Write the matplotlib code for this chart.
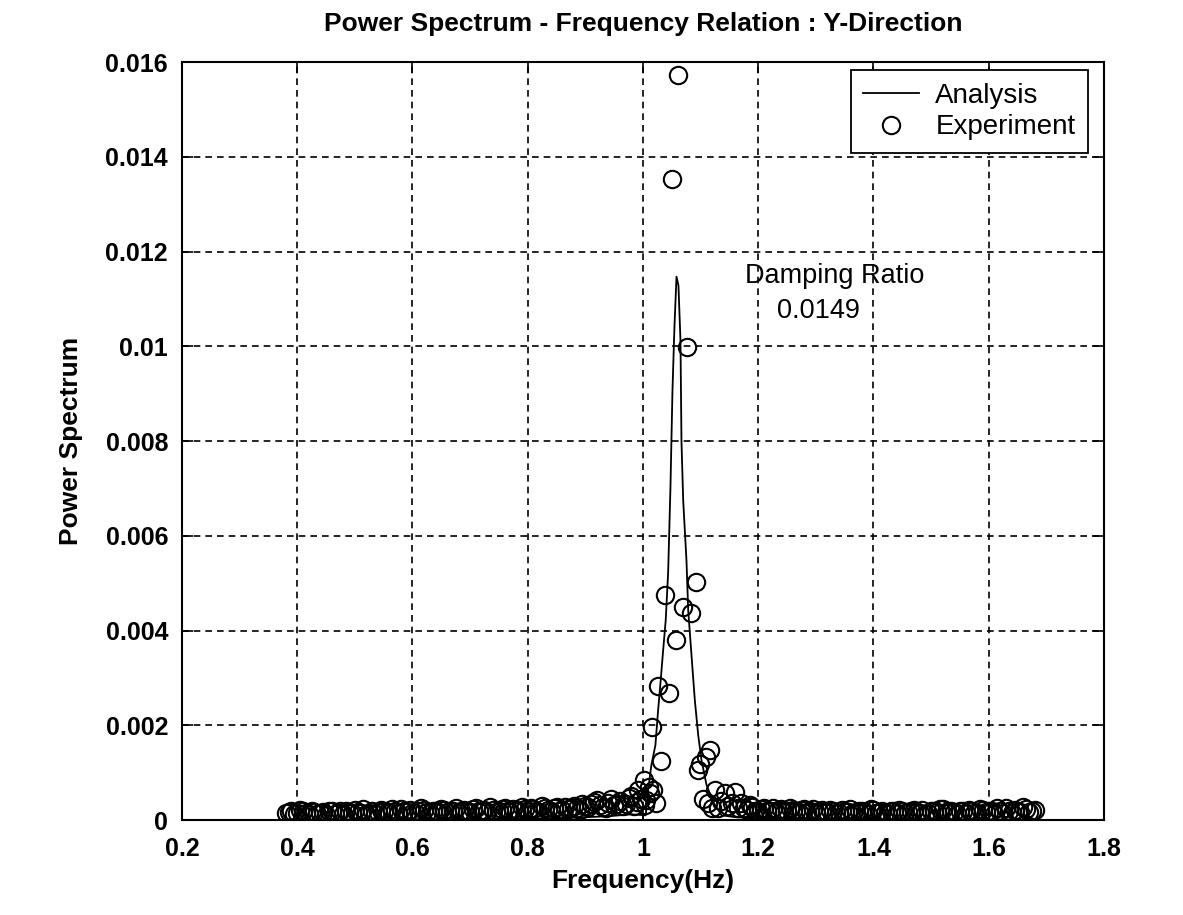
import numpy as np
import matplotlib
matplotlib.use('Agg')
import matplotlib.pyplot as plt

plt.rcParams['font.family'] = ['Liberation Sans', 'DejaVu Sans']

# ==== Experiment data (power in 1e-4 units) ====
# baseline below the resonance
exp_freq_low = [0.38, 0.39, 0.40, 0.41, 0.42, 0.43, 0.44, 0.45, 0.46, 0.47,
                0.48, 0.49, 0.50, 0.51, 0.52, 0.53, 0.54, 0.55, 0.56, 0.57,
                0.58, 0.59, 0.60, 0.61, 0.62, 0.63, 0.64, 0.65, 0.66, 0.67,
                0.68, 0.69, 0.70, 0.71, 0.72, 0.73, 0.74, 0.75, 0.76, 0.77,
                0.78, 0.79, 0.80, 0.81, 0.82, 0.83, 0.84, 0.85, 0.86, 0.87,
                0.88, 0.89, 0.90, 0.91, 0.92, 0.93, 0.94, 0.95, 0.96, 0.97,
                0.98, 0.99]
exp_pow_low = [1.5, 2.0, 1.4, 1.8, 1.2, 1.6, 1.4, 1.1, 1.8, 1.5,
               1.3, 1.7, 2.2, 1.5, 1.2, 1.8, 1.6, 2.0, 1.4, 1.9,
               2.3, 1.6, 1.4, 1.8, 2.1, 1.5, 1.9, 2.4, 1.6, 2.0,
               1.5, 2.2, 1.7, 2.5, 1.9, 1.6, 2.1, 1.8, 2.6, 1.7,
               2.2, 2.8, 1.9, 2.3, 1.7, 2.5, 2.0, 2.7, 2.1, 2.4,
               3.0, 2.2, 2.9, 3.3, 4.2, 2.8, 3.5, 3.1, 4.0, 3.4,
               5.0, 3.8]
exp_freq_low_mid = [0.385, 0.395, 0.405, 0.415, 0.425, 0.435, 0.445, 0.455, 0.465, 0.475,
                    0.485, 0.495, 0.505, 0.515, 0.525, 0.535, 0.545, 0.555, 0.565, 0.575,
                    0.585, 0.595, 0.605, 0.615, 0.625, 0.635, 0.645, 0.655, 0.665, 0.675,
                    0.685, 0.695, 0.705, 0.715, 0.725, 0.735, 0.745, 0.755, 0.765, 0.775,
                    0.785, 0.795, 0.805, 0.815, 0.825, 0.835, 0.845, 0.855, 0.865, 0.875,
                    0.885, 0.895, 0.905, 0.915, 0.925, 0.935, 0.945, 0.955, 0.965, 0.975,
                    0.985]
exp_pow_low_mid = [1.7, 1.2, 2.1, 1.4, 1.9, 1.3, 1.6, 2.0, 1.2, 1.8,
                   2.0, 1.4, 1.7, 2.3, 1.5, 1.3, 2.1, 1.7, 2.4, 1.5,
                   1.8, 2.2, 1.5, 2.5, 1.7, 2.0, 1.6, 2.2, 1.8, 2.6,
                   2.0, 1.6, 2.3, 1.8, 2.2, 2.7, 1.7, 2.4, 2.0, 2.3,
                   1.8, 2.4, 2.6, 2.0, 2.9, 2.2, 2.5, 1.9, 2.8, 2.6,
                   2.5, 3.4, 2.7, 3.9, 3.2, 2.6, 4.4, 3.3, 2.9, 4.6,
                   3.0]

# around the peak
exp_freq_peak = [0.992, 0.996, 1.001, 1.004, 1.006, 1.010, 1.013, 1.0164, 1.018, 1.022,
                 1.026, 1.032, 1.039, 1.045, 1.0506, 1.058, 1.0616, 1.0698, 1.077, 1.083,
                 1.0912, 1.096, 1.099, 1.104, 1.110, 1.113, 1.116, 1.120, 1.125, 1.130,
                 1.136, 1.142, 1.148, 1.155, 1.160, 1.165]
exp_pow_peak = [6.3, 4.5, 8.4, 3.2, 4.2, 7.0, 5.7, 19.7, 6.3, 3.6,
                28.2, 12.4, 47.6, 26.8, 135.4, 38.1, 157.3, 45.0, 99.8, 43.7,
                50.2, 10.5, 11.9, 4.5, 13.3, 3.6, 14.8, 2.5, 6.3, 2.5,
                4.0, 5.7, 3.0, 3.6, 6.0, 2.5]

# baseline above the resonance
exp_freq_high = [1.17, 1.18, 1.19, 1.20, 1.21, 1.22, 1.23, 1.24, 1.25, 1.26,
                 1.27, 1.28, 1.29, 1.30, 1.31, 1.32, 1.33, 1.34, 1.35, 1.36,
                 1.37, 1.38, 1.39, 1.40, 1.41, 1.42, 1.43, 1.44, 1.45, 1.46,
                 1.47, 1.48, 1.49, 1.50, 1.51, 1.52, 1.53, 1.54, 1.55, 1.56,
                 1.57, 1.58, 1.59, 1.60, 1.61, 1.62, 1.63, 1.64, 1.65, 1.66,
                 1.67, 1.68]
exp_pow_high = [3.5, 2.2, 2.8, 1.9, 2.5, 2.0, 1.7, 2.4, 1.8, 2.1,
                1.6, 2.3, 1.9, 1.5, 2.2, 1.7, 2.0, 1.4, 1.9, 2.4,
                1.6, 1.8, 1.3, 2.1, 1.7, 1.5, 2.0, 1.4, 1.8, 1.6,
                2.2, 1.5, 1.3, 1.9, 1.6, 2.3, 1.4, 1.7, 2.0, 1.5,
                1.8, 1.4, 2.1, 1.6, 1.3, 1.9, 2.5, 1.5, 1.7, 2.8,
                1.6, 2.2]
exp_freq_high_mid = [1.175, 1.185, 1.195, 1.205, 1.215, 1.225, 1.235, 1.245, 1.255, 1.265,
                     1.275, 1.285, 1.295, 1.305, 1.315, 1.325, 1.335, 1.345, 1.355, 1.365,
                     1.375, 1.385, 1.395, 1.405, 1.415, 1.425, 1.435, 1.445, 1.455, 1.465,
                     1.475, 1.485, 1.495, 1.505, 1.515, 1.525, 1.535, 1.545, 1.555, 1.565,
                     1.575, 1.585, 1.595, 1.605, 1.615, 1.625, 1.635, 1.645, 1.655, 1.665,
                     1.675]
exp_pow_high_mid = [2.6, 3.2, 2.0, 2.3, 1.8, 2.6, 2.2, 1.6, 2.5, 1.9,
                    2.1, 1.5, 2.4, 1.8, 1.6, 2.2, 1.5, 2.1, 1.7, 1.4,
                    2.0, 1.6, 2.3, 1.5, 1.9, 1.3, 1.8, 2.2, 1.5, 1.9,
                    1.7, 2.1, 1.4, 1.8, 2.4, 1.6, 2.0, 1.3, 1.9, 2.2,
                    1.5, 2.3, 1.7, 1.9, 2.6, 1.4, 1.8, 2.2, 1.6, 2.4,
                    1.9]

# ==== Analysis curve (power in 1e-4 units) ====
ana_freq = [0.38, 0.50, 0.60, 0.70, 0.80, 0.88, 0.94, 0.98, 1.0047, 1.0089,
            1.0146, 1.0216, 1.0263, 1.0308, 1.035, 1.0395, 1.0437, 1.0477, 1.0512, 1.0547,
            1.0582, 1.0616, 1.0651, 1.0668, 1.0698, 1.0755, 1.0785, 1.0842, 1.09, 1.0959,
            1.1016, 1.1103, 1.122, 1.1365, 1.16, 1.20, 1.30, 1.40, 1.50, 1.60, 1.68]
ana_pow = [0.1, 0.1, 0.15, 0.2, 0.3, 0.5, 0.8, 1.2, 1.0, 6.3,
           11.6, 15.8, 23.2, 29.5, 35.8, 42.2, 52.3, 70.2, 90.6, 104.3,
           114.7, 112.8, 101.2, 80.1, 67.5, 54.8, 44.3, 34.8, 25.3, 17.9,
           12.6, 7.4, 3.8, 1.0, 0.6, 0.4, 0.2, 0.15, 0.1, 0.1, 0.1]

damping_ratio = '0.0149'

x_ticks = [0.2, 0.4, 0.6, 0.8, 1.0, 1.2, 1.4, 1.6, 1.8]
x_labels = ['0.2', '0.4', '0.6', '0.8', '1', '1.2', '1.4', '1.6', '1.8']
y_ticks = [0, 0.002, 0.004, 0.006, 0.008, 0.010, 0.012, 0.014, 0.016]
y_labels = ['0', '0.002', '0.004', '0.006', '0.008', '0.01', '0.012', '0.014', '0.016']

exp_freq = np.array(exp_freq_low + exp_freq_low_mid + exp_freq_peak
                    + exp_freq_high + exp_freq_high_mid)
exp_pow = np.array(exp_pow_low + exp_pow_low_mid + exp_pow_peak
                   + exp_pow_high + exp_pow_high_mid) * 1e-4
ana_f = np.array(ana_freq)
ana_p = np.array(ana_pow) * 1e-4

fig = plt.figure(figsize=(11.83, 9.15), dpi=100)
ax = fig.add_axes([0.1538, 0.1038, 0.7794, 0.8284])

line, = ax.plot(ana_f, ana_p, color='black', linewidth=1.3, label='Analysis')
pts, = ax.plot(exp_freq, exp_pow, linestyle='none', marker='o', markersize=12.5,
               markerfacecolor='none', markeredgecolor='black', markeredgewidth=1.5,
               label='Experiment')

ax.set_xlim(0.2, 1.8)
ax.set_ylim(0, 0.016)
ax.set_xticks(x_ticks)
ax.set_xticklabels(x_labels)
ax.set_yticks(y_ticks)
ax.set_yticklabels(y_labels)

ax.tick_params(direction='in', length=8, width=1.2, top=True, right=True,
               labelsize=18)
ax.tick_params(axis='x', pad=12)
ax.tick_params(axis='y', pad=10)
for lab in ax.get_xticklabels() + ax.get_yticklabels():
    lab.set_fontweight('bold')

ax.grid(True, color='black', linestyle=(0, (4, 3)), linewidth=1.2)
for sp in ax.spines.values():
    sp.set_linewidth(1.5)

ax.set_title('Power Spectrum - Frequency Relation : Y-Direction',
             fontsize=19, fontweight='bold', pad=22)
ax.set_xlabel('Frequency(Hz)', fontsize=19, fontweight='bold', labelpad=6)
ax.set_ylabel('Power Spectrum', fontsize=19, fontweight='bold', labelpad=16)

ax.text(1.1765, 0.01149, 'Damping Ratio', fontsize=19.5, ha='left', va='center')
ax.text(1.232, 0.01074, damping_ratio, fontsize=19.5, ha='left', va='center')

leg = ax.legend(handles=[line, pts], loc='upper right', bbox_to_anchor=(0.9826, 0.989),
                fontsize=20, frameon=True, fancybox=False, framealpha=1,
                edgecolor='black', borderpad=0.45, handlelength=2.0,
                handletextpad=0.6, labelspacing=0.2, borderaxespad=0)
leg.get_frame().set_linewidth(1.3)

fig.savefig('out.png', dpi=100)
